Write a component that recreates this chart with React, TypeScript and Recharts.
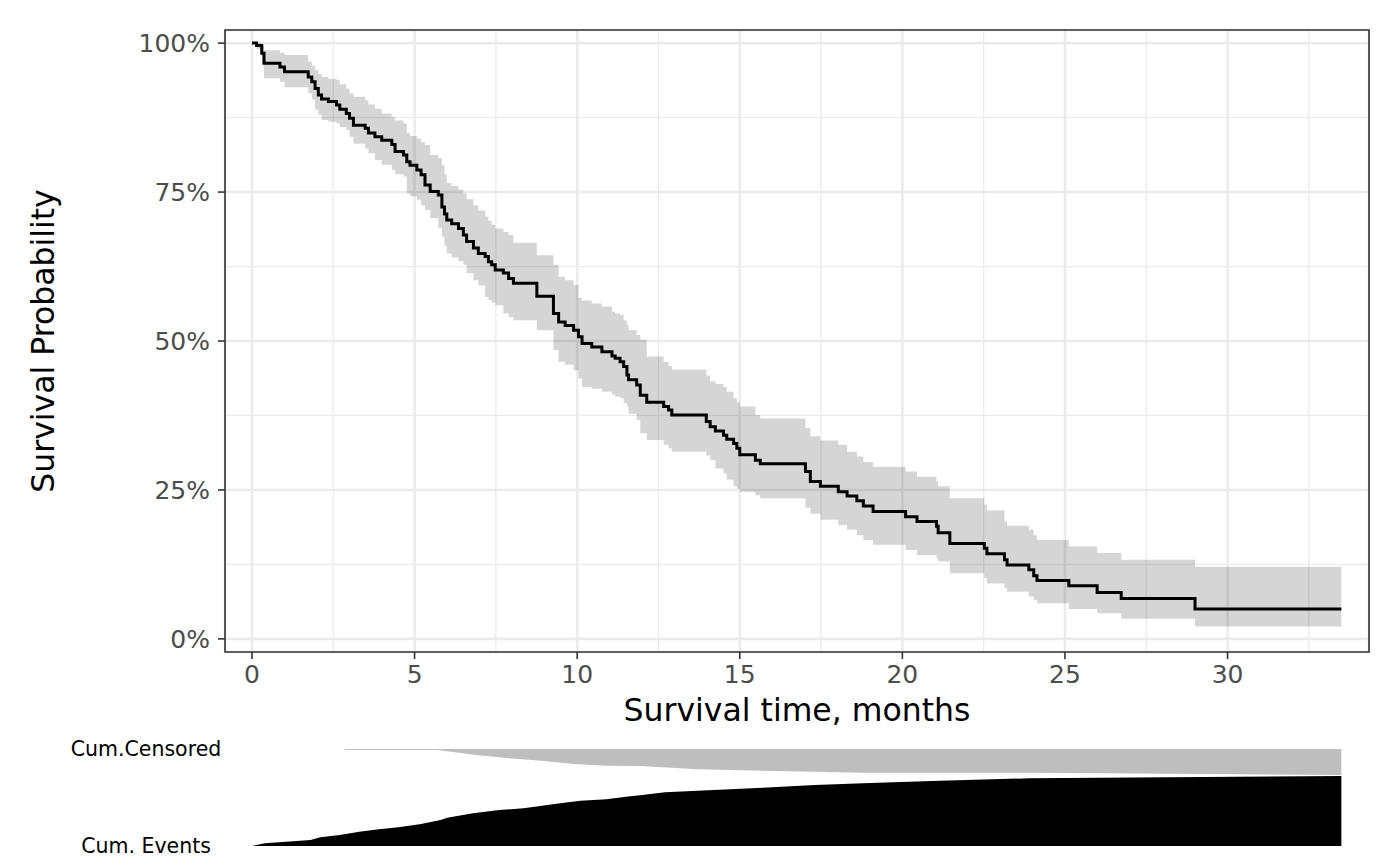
import React from "react";
import {
  ComposedChart,
  Area,
  Line,
  XAxis,
  YAxis,
  CartesianGrid,
  ReferenceArea,
} from "recharts";

// Kaplan-Meier step data (time in months, survival in %)
const kmTime = [
  0, 0.14, 0.3, 0.37, 0.86, 1.0, 1.73, 1.84, 1.94, 2.04,
  2.14, 2.35, 2.6, 2.7, 2.9, 3.0, 3.12, 3.48, 3.58, 3.78,
  3.99, 4.3, 4.4, 4.66, 4.76, 4.86, 5.07, 5.2, 5.32, 5.48,
  5.73, 5.84, 5.92, 5.99, 6.14, 6.35, 6.5, 6.6, 6.81, 6.96,
  7.17, 7.27, 7.37, 7.48, 7.73, 7.89, 8.04, 8.76, 9.27, 9.43,
  9.63, 9.89, 10.04, 10.15, 10.45, 10.76, 11.07, 11.17, 11.32, 11.43,
  11.53, 11.58, 11.83, 11.94, 12.14, 12.66, 12.81, 12.91, 13.97, 14.09,
  14.25, 14.5, 14.6, 14.81, 14.91, 15.0, 15.48, 15.63, 17.02, 17.17,
  17.48, 18.03, 18.3, 18.6, 18.8, 19.1, 20.1, 20.45, 21.05, 21.1,
  21.46, 22.52, 22.6, 23.14, 23.22, 23.89, 24.04, 24.14, 25.12, 25.99,
  26.73, 29.0, 33.5,
];
const kmSurv = [
  100, 99.6, 98.3, 96.6, 96.0, 95.2, 94.3, 93.5, 92.4, 91.3,
  90.6, 90.2, 89.6, 88.9, 88.2, 87.4, 86.2, 85.7, 84.9, 84.3,
  83.7, 83.0, 81.8, 81.2, 80.1, 79.5, 78.7, 77.9, 76.2, 75.1,
  74.5, 72.5, 71.3, 70.3, 69.7, 68.9, 67.8, 66.7, 65.6, 64.7,
  64.2, 63.3, 62.8, 61.9, 61.4, 60.5, 59.7, 57.5, 54.6, 53.2,
  52.6, 51.8, 50.7, 49.6, 49.0, 48.2, 47.5, 47.1, 46.5, 45.7,
  44.3, 43.5, 42.6, 40.9, 39.7, 39.0, 38.4, 37.6, 36.5, 35.6,
  34.9, 34.2, 33.5, 32.8, 32.0, 30.9, 30.0, 29.4, 28.1, 26.4,
  25.6, 24.7, 24.0, 23.2, 22.3, 21.4, 20.5, 19.7, 18.9, 17.8,
  16.0, 15.2, 14.3, 13.3, 12.4, 11.6, 10.6, 9.8, 8.9, 7.8,
  6.8, 5.0, 5.0,
];
const kmLower = [
  100, 99.0, 96.6, 94.1, 93.5, 92.6, 91.6, 90.5, 88.8, 88.0,
  87.1, 86.8, 86.5, 85.9, 85.4, 84.3, 83.1, 82.3, 81.5, 80.4,
  79.6, 78.7, 78.0, 77.6, 74.8, 74.3, 73.7, 72.8, 72.0, 70.6,
  69.0, 67.5, 66.0, 64.7, 64.0, 63.4, 62.8, 61.4, 60.2, 59.3,
  57.4, 56.9, 56.4, 56.0, 54.6, 54.0, 53.5, 51.8, 48.5, 46.5,
  46.0, 45.1, 43.7, 42.3, 42.0, 41.5, 41.0, 40.7, 40.4, 39.6,
  39.0, 37.8, 36.7, 34.5, 33.4, 32.6, 32.0, 31.4, 30.8, 30.0,
  28.6, 27.8, 26.7, 25.6, 25.2, 24.7, 24.1, 23.6, 22.0, 21.0,
  20.0, 19.1, 18.3, 17.4, 16.6, 15.8, 14.9, 14.1, 13.5, 13.0,
  11.0, 10.2, 9.3, 8.6, 7.9, 7.1, 6.5, 6.0, 5.0, 4.3,
  3.4, 2.1, 2.1,
];
const kmUpper = [
  100, 100, 99.6, 98.8, 98.4, 98.0, 96.9, 96.2, 95.5, 94.8,
  94.3, 94.0, 93.8, 93.1, 92.4, 91.6, 91.0, 90.4, 89.7, 89.0,
  88.2, 87.6, 87.0, 86.5, 84.9, 84.4, 84.0, 83.4, 82.9, 81.2,
  80.7, 79.5, 78.0, 76.5, 76.0, 75.4, 74.8, 73.8, 72.8, 71.9,
  70.9, 70.2, 69.5, 68.9, 68.3, 67.8, 66.5, 64.4, 62.8, 60.8,
  60.2, 59.4, 57.2, 56.8, 56.3, 55.8, 54.9, 54.6, 54.4, 53.5,
  52.7, 51.8, 51.0, 50.2, 47.4, 46.5, 45.8, 45.2, 44.2, 43.2,
  42.8, 42.3, 41.5, 40.4, 39.7, 39.0, 37.6, 37.0, 35.4, 34.0,
  33.3, 32.6, 31.4, 30.6, 29.7, 28.9, 28.1, 27.2, 26.4, 25.6,
  23.6, 22.5, 21.6, 19.7, 19.0, 18.3, 17.4, 16.6, 15.5, 14.4,
  13.3, 12.1, 12.1,
];

// Cumulative events (% of cohort) over time
const evTime = [0, 0.4, 1.8, 2.1, 2.7, 3.3, 3.9, 4.5, 5.2, 5.8, 6.0, 6.8, 7.6, 8.35, 8.86, 9.48, 10.1, 10.9, 11.5, 12.0, 12.7, 14.2, 15.7, 17.3, 18.8, 20.9, 23.9, 33.5];
const evPct = [0, 2.8, 6.2, 9.0, 11.3, 14.8, 17.2, 19.3, 22.7, 26.8, 29.2, 33.7, 37.1, 38.8, 41.2, 44.0, 46.7, 48.1, 50.8, 52.6, 55.4, 57.7, 60.1, 62.9, 64.6, 67.0, 69.8, 72.2];

// Cumulative censored (% of cohort) over time
const cenTime = [2.86, 5.7, 6.9, 7.9, 8.9, 9.9, 10.9, 11.95, 13.7, 15.7, 18.8, 23.9, 33.5];
const cenPct = [1.0, 1.0, 6.2, 9.6, 12.1, 15.5, 17.2, 17.5, 20.9, 22.4, 24.4, 24.4, 26.8];

const xTicks = [0, 5, 10, 15, 20, 25, 30];
const xMinorTicks = [2.5, 7.5, 12.5, 17.5, 22.5, 27.5, 32.5];
const yTicks = [0, 25, 50, 75, 100];
const yMinorTicks = [12.5, 37.5, 62.5, 87.5];
const riskTickLabels: Record<number, string> = { 0: "Cum. Events", 100: "Cum.Censored" };

const X_DOMAIN: [number, number] = [-0.83, 34.35];
const Y_DOMAIN: [number, number] = [-2.2, 102.2];
const FONT = "'DejaVu Sans', sans-serif";

const kmRows = kmTime.map((t, i) => ({
  t,
  surv: kmSurv[i],
  lo: kmLower[i],
  up: kmUpper[i],
}));
const evRows = evTime.map((t, i) => ({ t, v: evPct[i] }));
const cenRows = cenTime.map((t, i) => ({ t, c: cenPct[i] }));

const YTitle = (props: any) => {
  const vb = props.viewBox || { x: 0, y: 30, width: 225, height: 622 };
  const cx = vb.x + 54;
  const cy = vb.y + vb.height / 2;
  return (
    <text
      x={cx}
      y={cy}
      transform={`rotate(-90, ${cx}, ${cy})`}
      textAnchor="middle"
      fontFamily={FONT}
      fontSize={31.5}
      fill="#000"
    >
      Survival Probability
    </text>
  );
};

const RiskTick = (props: any) => {
  const { y, payload } = props;
  return (
    <text
      x={146}
      y={y}
      dy="0.355em"
      textAnchor="middle"
      fontFamily={FONT}
      fontSize={20.5}
      fill="#000"
    >
      {riskTickLabels[payload.value]}
    </text>
  );
};

export default function App() {
  return (
    <div style={{ position: "relative", width: 1400, height: 866, background: "#fff" }}>
      <style>{"body{margin:0;background:#fff}"}</style>
      <div style={{ position: "absolute", left: 0, top: 0 }}>
        <ComposedChart
          width={1400}
          height={740}
          data={kmRows}
          margin={{ top: 30, right: 31, bottom: 0, left: 0 }}
        >
          <XAxis
            xAxisId="minor"
            type="number"
            dataKey="t"
            domain={X_DOMAIN}
            ticks={xMinorTicks}
            allowDataOverflow
            hide
          />
          <YAxis
            yAxisId="minor"
            type="number"
            domain={Y_DOMAIN}
            ticks={yMinorTicks}
            allowDataOverflow
            hide
          />
          <CartesianGrid
            xAxisId="minor"
            yAxisId="minor"
            stroke="#EBEBEB"
            strokeWidth={1.3}
          />
          <CartesianGrid stroke="#EBEBEB" strokeWidth={2.6} />
          <XAxis
            type="number"
            dataKey="t"
            domain={X_DOMAIN}
            ticks={xTicks}
            allowDataOverflow
            height={88}
            axisLine={false}
            tickLine={{ stroke: "#333333", strokeWidth: 1.6 }}
            tickSize={7}
            tickMargin={6}
            tick={{ fill: "#4D4D4D", fontSize: 25, fontFamily: FONT }}
            label={{
              value: "Survival time, months",
              position: "insideBottom",
              offset: 19,
              style: { fill: "#000", fontSize: 31.5, fontFamily: FONT },
            }}
          />
          <YAxis
            type="number"
            domain={Y_DOMAIN}
            ticks={yTicks}
            allowDataOverflow
            width={225}
            axisLine={false}
            tickLine={{ stroke: "#333333", strokeWidth: 1.6 }}
            tickSize={7}
            tickMargin={8}
            tickFormatter={(v: number) => `${v}%`}
            tick={{ fill: "#4D4D4D", fontSize: 25, fontFamily: FONT }}
            label={<YTitle />}
          />
          <Area
            type="stepAfter"
            dataKey={(d: any) => [d.lo, d.up]}
            fill="#000"
            fillOpacity={0.165}
            stroke="none"
            isAnimationActive={false}
          />
          <Line
            type="stepAfter"
            dataKey="surv"
            stroke="#000"
            strokeWidth={3}
            dot={false}
            activeDot={false}
            isAnimationActive={false}
          />
          <ReferenceArea
            x1={X_DOMAIN[0]}
            x2={X_DOMAIN[1]}
            y1={Y_DOMAIN[0]}
            y2={Y_DOMAIN[1]}
            fill="none"
            fillOpacity={0}
            stroke="#333333"
            strokeWidth={1.6}
          />
        </ComposedChart>
      </div>
      <div style={{ position: "absolute", left: 0, top: 730 }}>
        <ComposedChart
          width={1400}
          height={136}
          margin={{ top: 19, right: 31, bottom: 20, left: 0 }}
        >
          <XAxis
            type="number"
            dataKey="t"
            domain={X_DOMAIN}
            allowDataOverflow
            hide
          />
          <YAxis
            type="number"
            domain={[0, 100]}
            ticks={[0, 100]}
            width={225}
            axisLine={false}
            tickLine={false}
            tick={<RiskTick />}
            interval={0}
          />
          <Area
            data={cenRows}
            type="linear"
            dataKey={(d: any) => [100 - d.c, 100]}
            fill="#BEBEBE"
            fillOpacity={1}
            stroke="none"
            isAnimationActive={false}
          />
          <Area
            data={evRows}
            type="linear"
            dataKey="v"
            fill="#000"
            fillOpacity={1}
            stroke="none"
            isAnimationActive={false}
          />
        </ComposedChart>
      </div>
    </div>
  );
}
